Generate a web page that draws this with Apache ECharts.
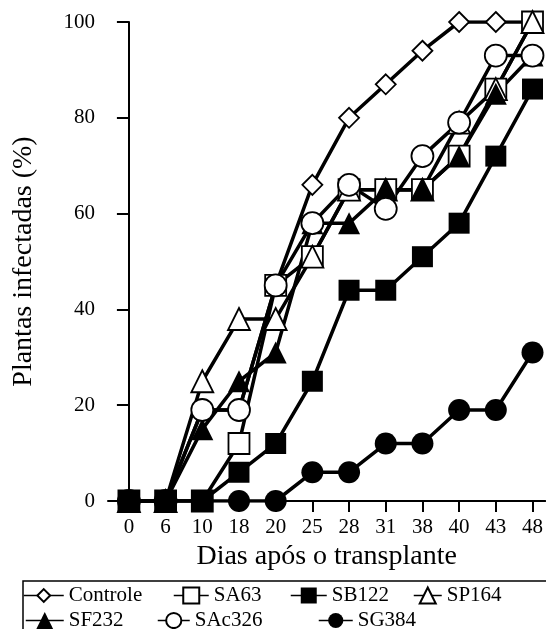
<!DOCTYPE html>
<html><head><meta charset="utf-8">
<script src="https://cdn.jsdelivr.net/npm/echarts@6/dist/echarts.min.js"></script>
<style>html,body{margin:0;padding:0;background:#fff}#c{width:546px;height:629px}</style>
</head><body><div id="c"></div>
<script>
// Days after transplant (category tick labels)
const days = ['0','6','10','18','20','25','28','31','38','40','43','48'];
// Percent of infected plants per treatment
const controle = [0,0,19,19,45,66,80,87,94,100,100,100];
const sa63     = [0,0,0,12,45,51,65,65,65,72,86,100];
const sb122    = [0,0,0,6,12,25,44,44,51,58,72,86];
const sp164    = [0,0,25,38,38,51,65,65,65,79,86,100];
const sf232    = [0,0,15,25,31,58,58,65,65,72,85,93];
const sac326   = [0,0,19,19,45,58,66,61,72,79,93,93];
const sg384    = [0,0,0,0,0,6,6,12,12,19,19,31];

const FONT = '"Liberation Serif", "Times New Roman", "DejaVu Serif", serif';
const chart = echarts.init(document.getElementById('c'), null, {renderer:'canvas'});

function mk(name, vals, symbol, size, filled) {
  return {
    name, type:'line', data: vals.map((v,i)=>[i,v]), symbol, symbolSize:size,
    lineStyle:{color:'#000', width:3.5},
    itemStyle:{color: filled ? '#000' : '#fff', borderColor:'#000', borderWidth: filled ? 0 : 1.8},
    emphasis:{disabled:true}, silent:true, animation:false
  };
}

const series = [
  mk('Controle', controle, 'diamond', 20, false),
  mk('SA63', sa63, 'rect', 21, false),
  mk('SP164', sp164, 'triangle', 22, false),
  mk('SF232', sf232, 'triangle', 22, true),
  mk('SAc326', sac326, 'circle', 22, false),
  mk('SG384', sg384, 'circle', 22, true),
  mk('SB122', sb122, 'rect', 21, true)
];

const legendPos = [
  {name:'Controle', left:23, cy:597, w:40, h:16},
  {name:'SA63', left:173, cy:597, w:35, h:20},
  {name:'SB122', left:290, cy:597, w:36, h:20},
  {name:'SP164', left:413, cy:597, w:28, h:20},
  {name:'SF232', left:25, cy:622, w:38, h:21},
  {name:'SAc326', left:157, cy:622, w:32, h:19},
  {name:'SG384', left:318, cy:622, w:34, h:19}
];

const idx = days.map((d,i)=>i);

chart.setOption({
  animation:false,
  backgroundColor:'#fff',
  textStyle:{fontFamily:FONT},
  grid:{left:108, top:22, right:0, bottom:128, containLabel:false},
  xAxis:{
    type:'value', min:-0.57, max:11.35,
    axisLine:{show:true, lineStyle:{color:'#000', width:2}},
    axisTick:{show:true, length:11, lineStyle:{color:'#000', width:2}, customValues: idx},
    axisLabel:{customValues: idx, formatter: v => days[Math.round(v)], margin:16,
      fontFamily:FONT, fontSize:21, color:'#000'},
    splitLine:{show:false},
    name:'Dias após o transplante', nameLocation:'middle', nameGap:40,
    nameTextStyle:{fontFamily:FONT, fontSize:28, color:'#000'}
  },
  yAxis:{
    type:'value', min:0, max:100, interval:20,
    axisLine:{show:true, lineStyle:{color:'#000', width:2}},
    axisTick:{show:true, length:12, lineStyle:{color:'#000', width:2}},
    axisLabel:{margin:13, fontFamily:FONT, fontSize:21, color:'#000'},
    splitLine:{show:false},
    name:'Plantas infectadas (%)', nameLocation:'middle', nameGap:70,
    nameTextStyle:{fontFamily:FONT, fontSize:28, color:'#000'}
  },
  legend: legendPos.map(p => ({
    data:[p.name], left:p.left, top:p.cy - 12, itemWidth:p.w, itemHeight:p.h,
    padding:0, itemGap:0, selectedMode:false,
    lineStyle:{width:1.5},
    textStyle:{fontFamily:FONT, fontSize:21, color:'#000'}
  })),
  graphic:[{type:'rect', x:23, y:581, shape:{x:0, y:0, width:600, height:100},
    style:{fill:'none', stroke:'#000', lineWidth:1.5}, z:-1, silent:true}],
  series
});
</script></body></html>
